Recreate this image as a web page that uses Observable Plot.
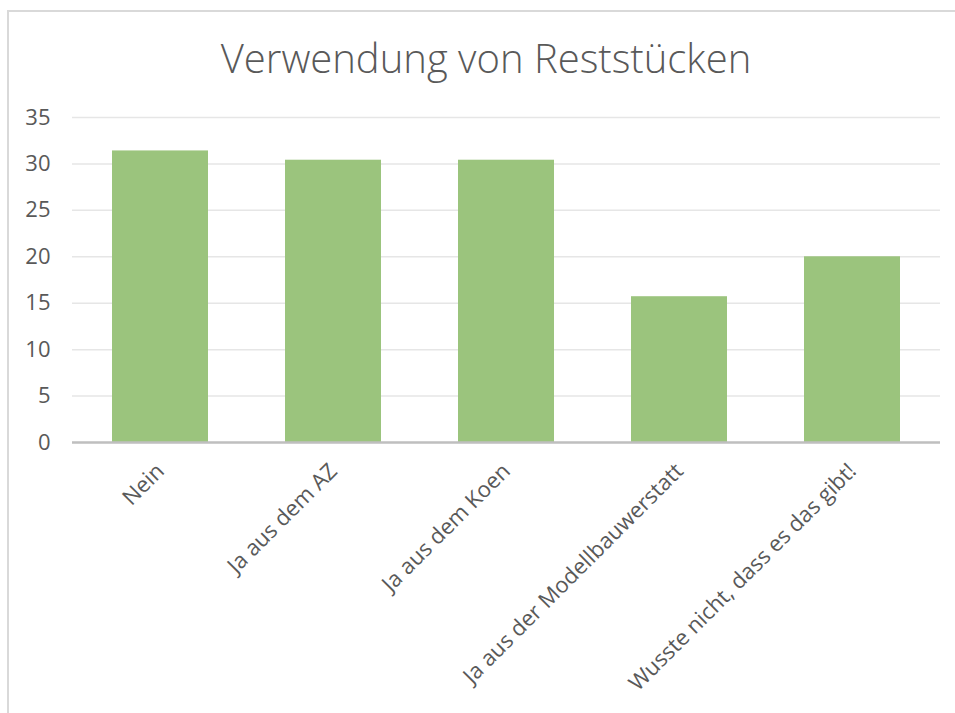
<!DOCTYPE html>
<html>
<head>
<meta charset="utf-8">
<script src="https://cdn.jsdelivr.net/npm/d3@7"></script>
<script src="https://cdn.jsdelivr.net/npm/@observablehq/plot@0.6"></script>
<style>
  html, body { margin: 0; padding: 0; background: #fff; }
  #wrap { position: relative; width: 955px; height: 713px; overflow: hidden; font-family: "Open Sans", sans-serif; }
  #frame { position: absolute; left: 7px; top: 10px; width: 1000px; height: 800px; border-left: 2px solid #d9d9d9; border-top: 2px solid #d9d9d9; }
  #title { position: absolute; left: 0; top: 0; width: 972px; height: 100px; text-align: center; font-family: "Open Sans", sans-serif; font-weight: 300; font-size: 40px; color: #595959; line-height: 1; padding-top: 38px; box-sizing: border-box; }
  #chart { position: absolute; left: 0; top: 100px; }
</style>
</head>
<body>
<div id="wrap">
  <div id="frame"></div>
  <div id="title">Verwendung von Reststücken</div>
  <div id="chart"></div>
</div>
<script>
const categories = ["Nein", "Ja aus dem AZ", "Ja aus dem Koen", "Ja aus der Modellbauwerstatt", "Wusste nicht, dass es das gibt!"];
const values = [31.4, 30.4, 30.4, 15.7, 20.0];
const yTicks = [0, 5, 10, 15, 20, 25, 30, 35];

const data = categories.map((c, i) => ({category: c, value: values[i]}));

const chart = Plot.plot({
  width: 955,
  height: 613,
  marginTop: 17,
  marginBottom: 271,
  marginLeft: 72,
  marginRight: 15,
  style: {fontFamily: "Open Sans, sans-serif", fontSize: "22px", color: "#595959", background: "transparent"},
  x: {domain: categories, paddingInner: 0.447, paddingOuter: 0.2235, align: 0.5},
  y: {domain: [0, 35]},
  marks: [
    Plot.gridY(yTicks, {stroke: "#e6e6e6", strokeOpacity: 1, strokeWidth: 1.5}),
    Plot.barY(data, {x: "category", y: "value", fill: "#9bc47d"}),
    Plot.ruleY([0], {stroke: "#bfbfbf", strokeWidth: 2.5}),
    Plot.axisY(yTicks, {tickSize: 0, tickPadding: 22, label: null, fontSize: 22, fill: "#595959"}),
    Plot.axisX({tickSize: 0, tickPadding: 25, tickRotate: -45, label: null, fontSize: 22, fill: "#595959"})
  ]
});
document.getElementById("chart").appendChild(chart);
</script>
</body>
</html>
